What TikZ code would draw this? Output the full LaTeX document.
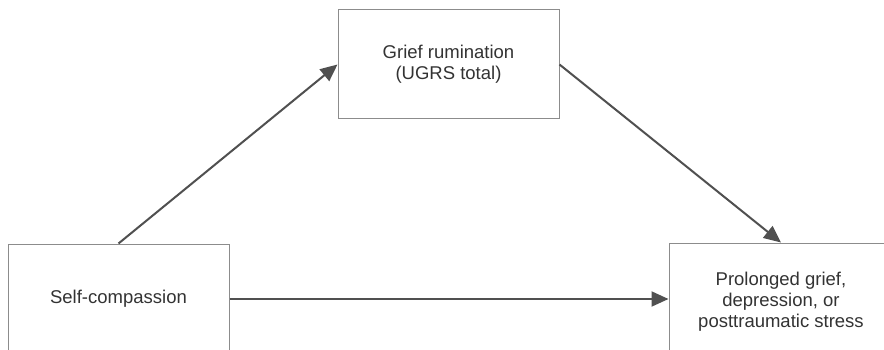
\documentclass[tikz,border=0pt]{standalone}
\usepackage{fontspec}
\setmainfont{Liberation Sans}
\usetikzlibrary{arrows.meta}
\definecolor{boxline}{HTML}{8C8C8C}
\definecolor{arrowc}{HTML}{505050}
\definecolor{txt}{HTML}{333333}
\tikzset{
  boxnode/.style={draw=boxline, line width=1pt, rectangle, align=center, text=txt,
    font=\fontsize{18.5pt}{21pt}\selectfont, inner sep=0pt},
  conn/.style={draw=arrowc, line width=2pt, -{Triangle[length=17pt,width=15pt]}}
}
\begin{document}
\begin{tikzpicture}[x=1pt,y=-1pt]
\clip (0,0) rectangle (884,350);
\fill[white] (0,0) rectangle (884,350);
\node[boxnode, minimum width=221pt, minimum height=110pt] (sc) at (118.5,299) {Self-compassion};
\node[boxnode, minimum width=221pt, minimum height=109pt] (gr) at (448.5,64.5) {Grief rumination\\(UGRS total)};
\node[boxnode, minimum width=224pt, minimum height=118pt] (out) at (781,302) {Prolonged grief,\\depression, or\\posttraumatic stress};
\draw[conn] (sc.north) -- (gr.west);
\draw[conn] (gr.east) -- (out.north);
\draw[conn] (sc.east) -- (sc.east -| out.west);
\end{tikzpicture}
\end{document}
